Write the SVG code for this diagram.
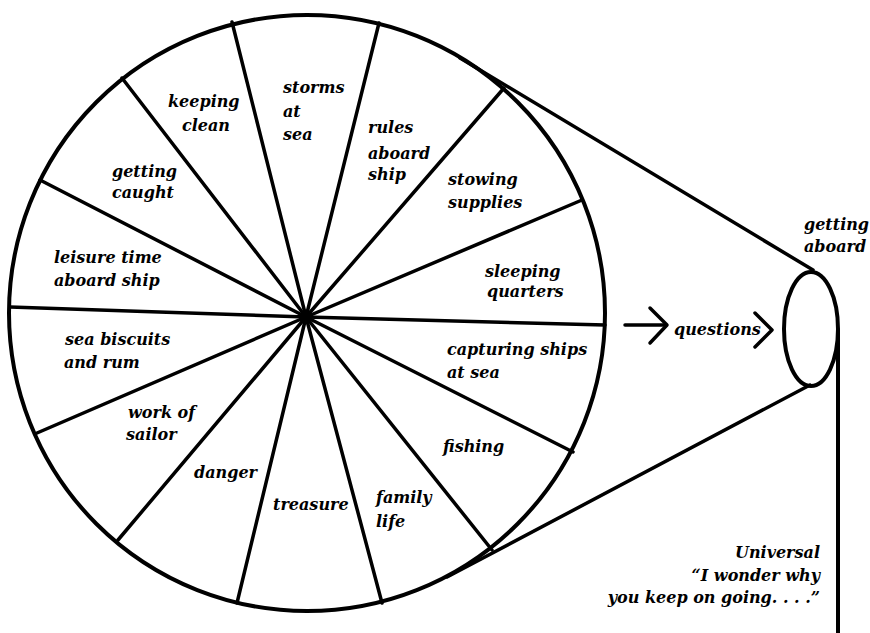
<svg xmlns="http://www.w3.org/2000/svg" width="870" height="633" viewBox="0 0 870 633">
<style>
.t{font-family:"DejaVu Serif","Liberation Serif",serif;font-style:italic;font-weight:bold;font-size:16px;fill:#000}
.ln{stroke:#000;fill:none;stroke-linecap:round;stroke-linejoin:round}
</style>
<rect width="870" height="633" fill="#fff"/>
<g id="wheel">
<circle cx="307" cy="313" r="298" class="ln" stroke-width="4"/>
<g class="ln" stroke-width="3.5">
<line x1="306" y1="317" x2="232" y2="22"/>
<line x1="306" y1="317" x2="379" y2="23"/>
<line x1="306" y1="317" x2="504" y2="88"/>
<line x1="306" y1="317" x2="582" y2="200"/>
<line x1="306" y1="317" x2="605" y2="325"/>
<line x1="306" y1="317" x2="573" y2="452"/>
<line x1="306" y1="317" x2="492" y2="550"/>
<line x1="306" y1="317" x2="382" y2="603"/>
<line x1="306" y1="317" x2="237" y2="603"/>
<line x1="306" y1="317" x2="118" y2="540"/>
<line x1="306" y1="317" x2="37" y2="433"/>
<line x1="306" y1="317" x2="10" y2="307"/>
<line x1="306" y1="317" x2="40" y2="180"/>
<line x1="306" y1="317" x2="122" y2="78"/>
</g>
<circle cx="306" cy="317" r="5" fill="#000"/>
</g>
<g id="s-keeping-clean"><text class="t" x="168" y="107">keeping</text><text class="t" x="182" y="131">clean</text></g>
<g id="s-storms"><text class="t" x="283" y="93">storms</text><text class="t" x="283" y="117">at</text><text class="t" x="283" y="140">sea</text></g>
<g id="s-rules"><text class="t" x="368" y="133">rules</text><text class="t" x="368" y="159">aboard</text><text class="t" x="368" y="180">ship</text></g>
<g id="s-stowing"><text class="t" x="448" y="185">stowing</text><text class="t" x="448" y="208">supplies</text></g>
<g id="s-sleeping"><text class="t" x="485" y="277">sleeping</text><text class="t" x="487" y="297">quarters</text></g>
<g id="s-capturing"><text class="t" x="447" y="355">capturing ships</text><text class="t" x="447" y="378">at sea</text></g>
<g id="s-fishing"><text class="t" x="443" y="452">fishing</text></g>
<g id="s-family"><text class="t" x="376" y="503">family</text><text class="t" x="376" y="527">life</text></g>
<g id="s-treasure"><text class="t" x="273" y="510">treasure</text></g>
<g id="s-danger"><text class="t" x="194" y="478">danger</text></g>
<g id="s-work"><text class="t" x="128" y="418">work of</text><text class="t" x="126" y="440">sailor</text></g>
<g id="s-biscuits"><text class="t" x="65" y="345">sea biscuits</text><text class="t" x="64" y="368">and rum</text></g>
<g id="s-leisure"><text class="t" x="54" y="263">leisure time</text><text class="t" x="54" y="286">aboard ship</text></g>
<g id="s-caught"><text class="t" x="112" y="177">getting</text><text class="t" x="112" y="198">caught</text></g>
<g id="getting-aboard">
<ellipse cx="811" cy="329" rx="27" ry="57" class="ln" stroke-width="4"/>
<text class="t" x="804" y="230">getting</text><text class="t" x="804" y="252">aboard</text>
</g>
<g id="questions">
<text class="t" x="674" y="335">questions</text>
</g>
<g id="universal">
<text class="t" x="820" y="558" text-anchor="end">Universal</text>
<text class="t" x="820" y="581" text-anchor="end">“I wonder why</text>
<text class="t" x="820" y="603" text-anchor="end">you keep on going. . . .”</text>
</g>
<g id="connectors" class="ln" stroke-width="3.5">
<line x1="460" y1="58" x2="813" y2="270"/>
<line x1="447" y1="577" x2="810" y2="385"/>
<line x1="838" y1="330" x2="838" y2="633" stroke-width="4"/>
<line x1="625" y1="325" x2="666" y2="325"/>
<polyline points="650,308 667,325 650,343"/>
<polyline points="755,313 772,330 755,347"/>
</g>
</svg>
